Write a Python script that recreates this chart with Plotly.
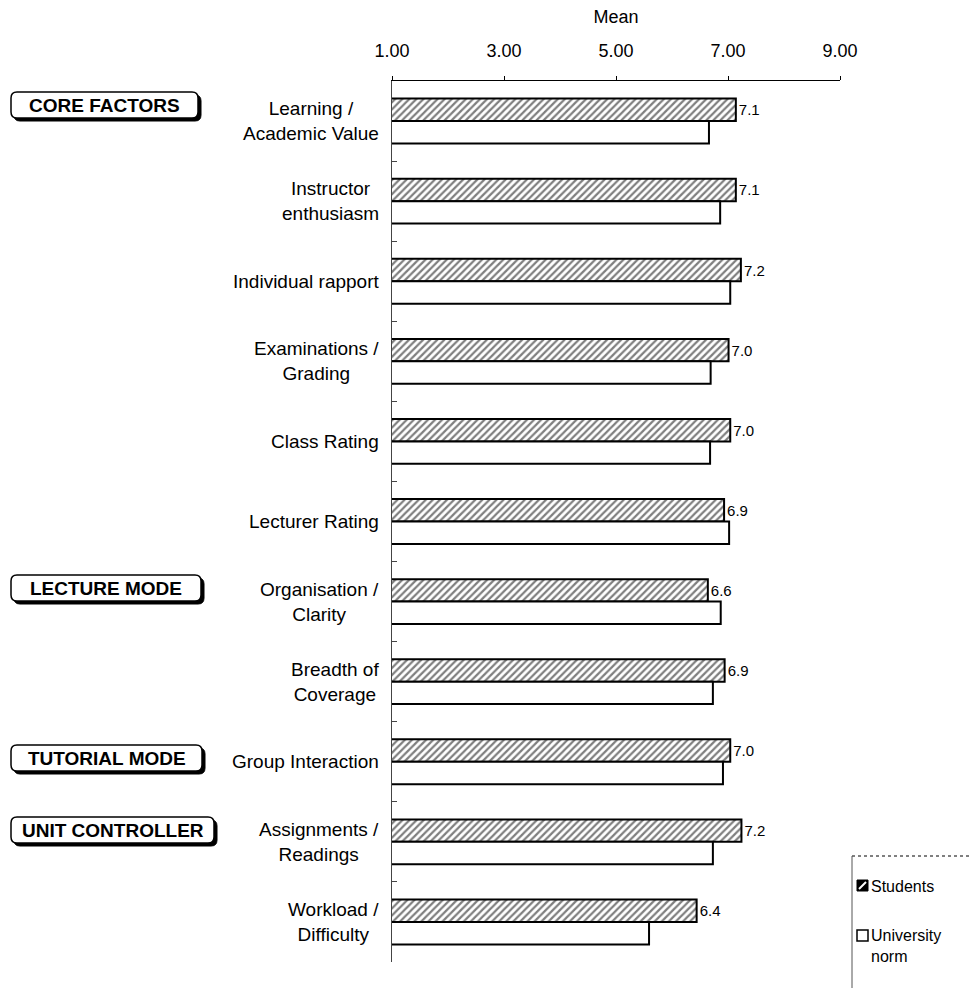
import plotly.graph_objects as go

# Course evaluation: mean rating per factor, students vs. university norm
categories = [
    "Learning /<br>Academic Value",
    "Instructor<br>enthusiasm",
    "Individual rapport",
    "Examinations /<br>Grading",
    "Class Rating",
    "Lecturer Rating",
    "Organisation /<br>Clarity",
    "Breadth of<br>Coverage",
    "Group Interaction",
    "Assignments /<br>Readings",
    "Workload /<br>Difficulty",
]
students = [7.14, 7.14, 7.23, 7.01, 7.04, 6.93, 6.64, 6.94, 7.04, 7.24, 6.44]
university_norm = [6.66, 6.86, 7.04, 6.69, 6.68, 7.02, 6.87, 6.73, 6.91, 6.73, 5.59]
tick_values = [1, 3, 5, 7, 9]
tick_labels = ["1.00", "3.00", "5.00", "7.00", "9.00"]

# section headings: label, top, bottom, left, right (page pixels)
sections = [
    ("CORE FACTORS", 92, 118, 11, 198),
    ("LECTURE MODE", 575, 601, 11, 201),
    ("TUTORIAL MODE", 745, 771, 11, 202),
    ("UNIT CONTROLLER", 817, 843, 11, 214),
]

FONT = "Liberation Sans, Arial, sans-serif"
W, H = 970, 988
L, R, T, B = 392, 130, 81, 26
PW, PH = W - L - R, H - T - B


def px(x):
    return (x - L) / PW


def py(y):
    return 1 - (y - T) / PH


def rounded_rect(x0, y0, x1, y1, r):
    """SVG path (paper coords) for a rounded rectangle given in page pixels."""
    pts = [
        f"M{px(x0 + r)},{py(y0)}",
        f"L{px(x1 - r)},{py(y0)}",
        f"Q{px(x1)},{py(y0)} {px(x1)},{py(y0 + r)}",
        f"L{px(x1)},{py(y1 - r)}",
        f"Q{px(x1)},{py(y1)} {px(x1 - r)},{py(y1)}",
        f"L{px(x0 + r)},{py(y1)}",
        f"Q{px(x0)},{py(y1)} {px(x0)},{py(y1 - r)}",
        f"L{px(x0)},{py(y0 + r)}",
        f"Q{px(x0)},{py(y0)} {px(x0 + r)},{py(y0)}",
    ]
    return " ".join(pts) + " Z"


fig = go.Figure()

fig.add_trace(go.Bar(
    name="Students",
    y=categories,
    x=students,
    orientation="h",
    marker=dict(
        color="white",
        line=dict(color="black", width=2),
        pattern=dict(shape="/", size=5, solidity=0.45, fgcolor="black", bgcolor="white"),
    ),
    texttemplate="%{x:.1f}",
    textposition="outside",
    textfont=dict(family=FONT, size=15, color="black"),
    cliponaxis=False,
    showlegend=False,
))

fig.add_trace(go.Bar(
    name="University norm",
    y=categories,
    x=university_norm,
    orientation="h",
    marker=dict(color="white", line=dict(color="black", width=2)),
    showlegend=False,
))

shapes = []
annotations = []

# category labels, centred line by line and right-aligned to the axis
for cat in categories:
    annotations.append(dict(
        x=0, xref="paper", xanchor="right", xshift=-11,
        y=cat, yref="y", yanchor="middle",
        text=cat, showarrow=False, align="center",
        font=dict(family=FONT, size=19, color="black"),
    ))

# section heading boxes with a drop shadow
for label, y0, y1, x0, x1 in sections:
    shapes.append(dict(type="path", xref="paper", yref="paper",
                       path=rounded_rect(x0 + 3, y0 + 3, x1 + 3, y1 + 3, 6),
                       fillcolor="black", line=dict(color="black", width=1)))
    shapes.append(dict(type="path", xref="paper", yref="paper",
                       path=rounded_rect(x0, y0, x1, y1, 6),
                       fillcolor="white", line=dict(color="black", width=1.5)))
    annotations.append(dict(
        x=px((x0 + x1) / 2), xref="paper", xanchor="center",
        y=py((y0 + y1) / 2), yref="paper", yanchor="middle",
        text=f"<b>{label}</b>", showarrow=False,
        font=dict(family=FONT, size=19, color="black"),
    ))

# legend panel
shapes.append(dict(type="line", xref="paper", yref="paper",
                   x0=px(852), x1=px(970), y0=py(856), y1=py(856),
                   line=dict(color="black", width=1, dash="dot")))
shapes.append(dict(type="line", xref="paper", yref="paper",
                   x0=px(852), x1=px(852), y0=py(856), y1=py(988),
                   line=dict(color="#555", width=1)))
# Students swatch: dark square crossed by a white diagonal
shapes.append(dict(type="rect", xref="paper", yref="paper",
                   x0=px(857), x1=px(868), y0=py(891), y1=py(880),
                   fillcolor="black", line=dict(color="black", width=1)))
shapes.append(dict(type="line", xref="paper", yref="paper",
                   x0=px(859), x1=px(866), y0=py(889), y1=py(882),
                   line=dict(color="white", width=2)))
# University norm swatch: open square
shapes.append(dict(type="rect", xref="paper", yref="paper",
                   x0=px(857), x1=px(868), y0=py(941), y1=py(930),
                   fillcolor="white", line=dict(color="black", width=1.5)))
annotations.append(dict(x=px(869), xref="paper", xanchor="left",
                        y=py(886), yref="paper", yanchor="middle",
                        text="Students", showarrow=False, align="left",
                        font=dict(family=FONT, size=16, color="black")))
annotations.append(dict(x=px(869), xref="paper", xanchor="left",
                        y=py(925), yref="paper", yanchor="top",
                        text="University<br>norm", showarrow=False, align="left",
                        font=dict(family=FONT, size=16, color="black")))

fig.update_layout(
    width=W, height=H,
    margin=dict(l=L, r=R, t=T, b=B),
    paper_bgcolor="white",
    plot_bgcolor="white",
    barmode="group",
    bargap=0.44,
    bargroupgap=0,
    font=dict(family=FONT, size=18, color="black"),
    shapes=shapes,
    annotations=annotations,
    xaxis=dict(
        side="top",
        range=[1, 9],
        tickvals=tick_values,
        ticktext=tick_labels,
        ticks="outside",
        ticklen=4,
        tickcolor="black",
        ticklabelstandoff=12,
        showline=True,
        linecolor="black",
        linewidth=1,
        showgrid=False,
        zeroline=False,
        tickfont=dict(family=FONT, size=18),
        title=dict(text="Mean", standoff=12, font=dict(family=FONT, size=18)),
        fixedrange=True,
    ),
    yaxis=dict(
        type="category",
        categoryorder="array",
        categoryarray=categories,
        autorange="reversed",
        showticklabels=False,
        ticks="inside",
        tickson="boundaries",
        ticklen=5,
        tickcolor="#444",
        showline=True,
        linecolor="#444",
        linewidth=1,
        showgrid=False,
        zeroline=False,
        fixedrange=True,
    ),
)

fig.write_html("out.html")
